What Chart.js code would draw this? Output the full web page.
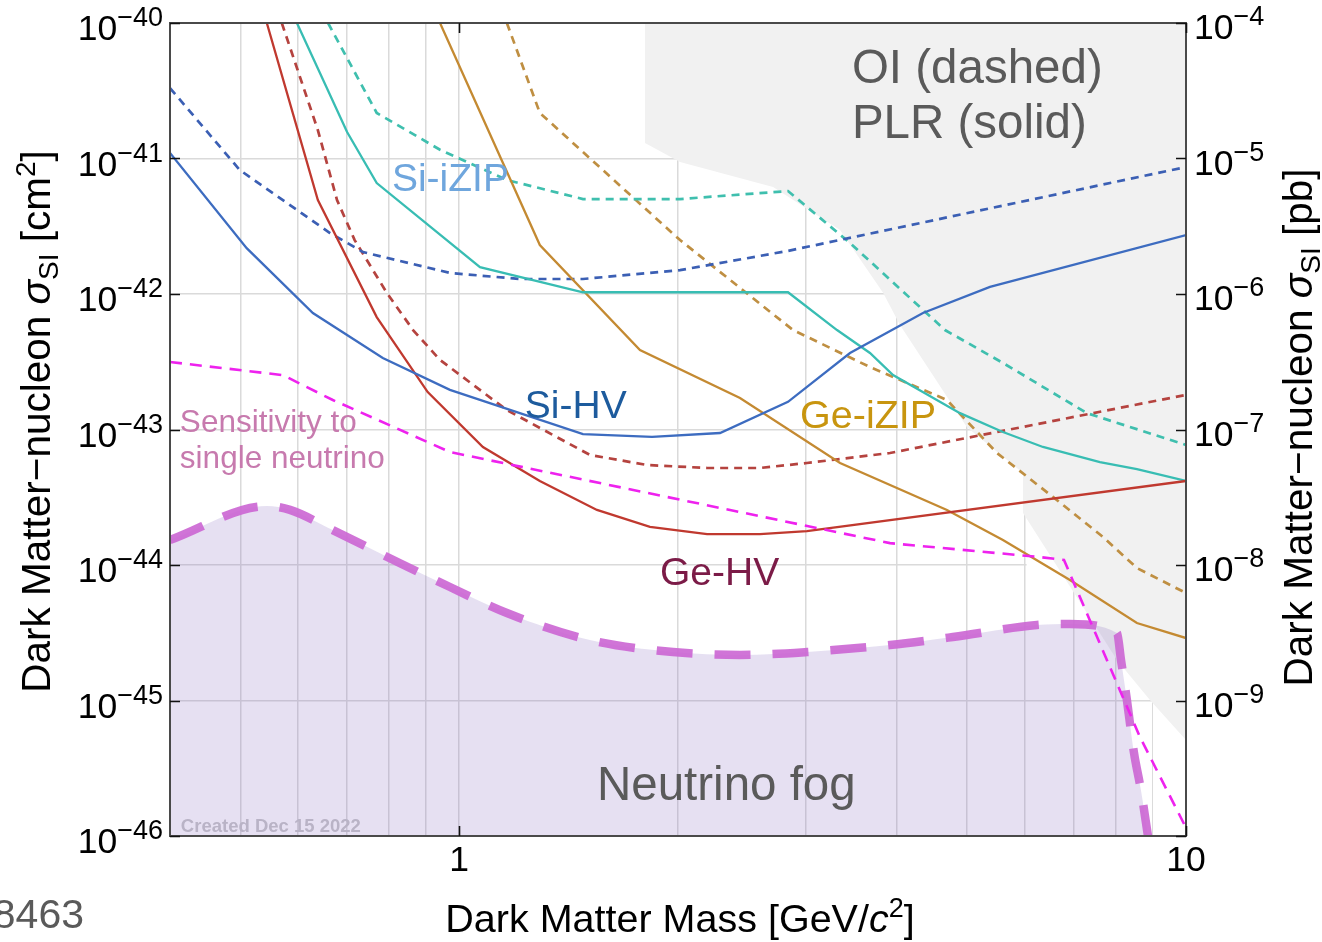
<!DOCTYPE html>
<html>
<head>
<meta charset="utf-8">
<script src="https://cdn.jsdelivr.net/npm/chart.js@4.4.1/dist/chart.umd.min.js"></script>
<style>
  html, body { margin: 0; padding: 0; background: #ffffff; overflow: hidden; }
  canvas { display: block; }
</style>
</head>
<body>
<canvas id="chart" width="1322" height="942"></canvas>
<script>
// ---- Projected spin-independent sensitivities (mass in GeV/c^2, cross-section in cm^2) ----
// Si HV, profile likelihood ratio (solid) and optimum interval (dashed)
const siHvPlrMass = [0.400, 0.510, 0.629, 0.785, 0.971, 1.480, 1.842, 2.285, 2.834, 3.449, 4.346, 5.374, 10.0];
const siHvPlrXsec = [1.10e-41, 2.18e-42, 7.24e-43, 3.37e-43, 1.96e-43, 9.26e-44, 8.81e-44, 9.42e-44, 1.60e-43, 3.67e-43, 7.24e-43, 1.13e-42, 2.72e-42];
const siHvOiMass = [0.400, 0.499, 0.664, 0.737, 0.971, 1.212, 1.480, 2.013, 2.834, 10.0];
const siHvOiXsec = [3.31e-41, 8.22e-42, 2.82e-42, 2.04e-42, 1.43e-42, 1.29e-42, 1.29e-42, 1.50e-42, 2.08e-42, 8.65e-42];

// Ge HV
const geHvPlrMass = [0.5436, 0.639, 0.770, 0.905, 1.078, 1.291, 1.547, 1.830, 2.193, 2.593, 3.009, 10.0];
const geHvPlrXsec = [1e-40, 4.94e-42, 6.76e-43, 1.89e-43, 7.43e-44, 4.17e-44, 2.55e-44, 1.91e-44, 1.69e-44, 1.69e-44, 1.78e-44, 4.17e-44];
const geHvOiMass = [0.570, 0.639, 0.679, 0.718, 0.795, 0.864, 0.941, 1.163, 1.513, 1.813, 2.193, 2.593, 3.009, 3.915, 10.0];
const geHvOiXsec = [1e-40, 1.62e-41, 4.94e-42, 2.50e-42, 1.02e-42, 5.42e-43, 3.26e-43, 1.39e-43, 6.49e-44, 5.47e-44, 5.20e-44, 5.20e-44, 5.66e-44, 6.71e-44, 1.80e-43];

// Si iZIP
const siIzipPlrMass = [0.598, 0.701, 0.770, 1.068, 1.480, 2.834, 3.310, 3.674, 3.953, 4.887, 5.599, 6.356, 7.613, 8.560, 10.0];
const siIzipPlrXsec = [1e-40, 1.57e-41, 6.59e-42, 1.58e-42, 1.03e-42, 1.03e-42, 5.42e-43, 3.67e-43, 2.52e-43, 1.32e-43, 9.59e-44, 7.43e-44, 5.75e-44, 5.11e-44, 4.17e-44];
const siIzipOiMass = [0.660, 0.770, 0.941, 1.163, 1.480, 2.013, 2.834, 3.449, 4.660, 5.599, 7.306, 10.0];
const siIzipOiXsec = [1e-40, 2.17e-41, 1.16e-41, 6.94e-42, 5.02e-42, 5.02e-42, 5.75e-42, 2.38e-42, 5.42e-43, 3.10e-43, 1.32e-43, 7.69e-44];

// Ge iZIP
const geIzipPlrMass = [0.941, 1.291, 1.773, 2.434, 3.342, 4.689, 5.599, 6.923, 8.560, 10.0];
const geIzipPlrXsec = [1e-40, 2.30e-42, 3.86e-43, 1.71e-43, 5.66e-44, 2.55e-44, 1.53e-44, 7.75e-45, 3.73e-45, 2.89e-45];
const geIzipOiMass = [1.163, 1.291, 2.013, 2.879, 3.674, 4.689, 5.494, 6.560, 7.686, 8.560, 10.0];
const geIzipOiXsec = [1e-40, 2.17e-41, 2.50e-42, 5.42e-43, 2.89e-43, 1.65e-43, 6.71e-44, 3.18e-44, 1.61e-44, 9.5e-45, 6.21e-45];

// Cross-section giving one expected neutrino event
const singleNuMass = [0.400, 0.572, 0.670, 0.971, 3.915, 6.237, 6.794, 8.642, 10.0];
const singleNuXsec = [3.15e-43, 2.52e-43, 1.65e-43, 6.82e-44, 1.45e-44, 1.15e-44, 1.09e-44, 5.38e-46, 1.15e-46];

// Neutrino fog boundary
const fogMass = [0.400, 0.5436, 0.585, 0.670, 0.829, 0.971, 1.163, 1.513, 1.968, 2.434, 3.009, 3.915, 4.779, 6.237, 6.923, 8.035, 8.139, 8.292, 8.481, 8.670, 8.864];
const fogXsec = [1.53e-44, 2.72e-44, 2.55e-44, 1.81e-44, 1.03e-44, 6.88e-45, 4.42e-45, 2.79e-45, 2.28e-45, 2.17e-45, 2.28e-45, 2.57e-45, 2.94e-45, 3.61e-45, 3.67e-45, 3.15e-45, 1.99e-45, 1.01e-45, 4.10e-46, 2.18e-46, 1e-46];

// Existing exclusion region (grey), filled up to the top of the plot
const excludedMass = [1.801, 1.801, 2.013, 2.703, 3.342, 3.830, 4.041, 4.996, 5.967, 5.967, 8.035, 8.920, 10.0];
const excludedXsec = [1e-40, 1.30e-41, 9.42e-42, 6.16e-42, 2.97e-42, 1.02e-42, 5.90e-43, 1.04e-43, 4.78e-44, 2.42e-44, 1.99e-45, 1.01e-45, 5.11e-46];

// Blank margin below the exclusion edge where the grid is not shown
const blankMass = [6.03, 6.03, 6.990, 7.984, 9.006, 9.006, 10.0];
const blankXsec = [1e-40, 9.18e-45, 7.12e-45, 2.79e-45, 1.06e-45, 1e-46, 1e-46];

// ---- Axes ----
const massGrid = [0.5, 0.6, 0.7, 0.8, 0.9, 1, 2, 3, 4, 5, 6, 7, 8, 9];
const massTicks = [1, 10];
const massTickLabels = ['1', '10'];
const xsecTicks = [1e-40, 1e-41, 1e-42, 1e-43, 1e-44, 1e-45, 1e-46];
const xsecTickExps = ['\u221240', '\u221241', '\u221242', '\u221243', '\u221244', '\u221245', '\u221246'];
const pbTicks = [1e-4, 1e-5, 1e-6, 1e-7, 1e-8, 1e-9];
const pbTickExps = ['\u22124', '\u22125', '\u22126', '\u22127', '\u22128', '\u22129'];

// ---- In-plot labels (anchored at left/baseline, in data units) ----
const noteText = ['Si-iZIP', 'Si-HV', 'Ge-iZIP', 'Ge-HV', 'Sensitivity to', 'single neutrino', 'OI (dashed)', 'PLR (solid)', 'Neutrino fog', 'Created Dec 15 2022'];
const noteMass = [0.808, 1.231, 2.944, 1.889, 0.4127, 0.4127, 3.47, 3.47, 1.547, 0.414];
const noteXsec = [5.75e-42, 1.22e-43, 1.03e-43, 7.12e-45, 9.58e-44, 5.20e-44, 3.61e-41, 1.42e-41, 1.85e-46, 1.07e-46];

const FF = '"Liberation Sans", Arial, Helvetica, sans-serif';
const noteStyle = [
  { color: '#6fa6dd', font: `39px ${FF}` },
  { color: '#1d5b9d', font: `39px ${FF}` },
  { color: '#c8950f', font: `39.5px ${FF}` },
  { color: '#7b1b47', font: `39px ${FF}` },
  { color: '#c77aae', font: `31.5px ${FF}` },
  { color: '#c77aae', font: `31.5px ${FF}` },
  { color: '#5a5a5a', font: `47.5px ${FF}` },
  { color: '#5a5a5a', font: `47.5px ${FF}` },
  { color: '#5a5a5a', font: `47.5px ${FF}` },
  { color: '#b9b3c6', font: `bold 18.5px ${FF}` }
];

function points(mass, xsec) {
  return mass.map((m, i) => ({ x: m, y: xsec[i] }));
}

function line(mass, xsec, color, dashed, order) {
  return {
    data: points(mass, xsec),
    borderColor: color,
    borderWidth: dashed ? 2.7 : 2.3,
    borderDash: dashed ? [8, 6] : [],
    fill: false,
    order: order
  };
}

// Draws a run of text pieces with their own fonts and vertical offsets.
function richText(ctx, parts, x, y, align) {
  let w = 0;
  for (const p of parts) { ctx.font = p.font; w += ctx.measureText(p.t).width; }
  let cx = align === 'right' ? x - w : align === 'center' ? x - w / 2 : x;
  for (const p of parts) {
    ctx.font = p.font;
    ctx.fillText(p.t, cx, y + (p.dy || 0));
    cx += ctx.measureText(p.t).width;
  }
}

const decorations = {
  id: 'decorations',
  afterDraw(chart) {
    const { ctx, chartArea: a, scales } = chart;
    const x = scales.x, y = scales.y, y2 = scales.y2;
    ctx.save();

    // frame
    ctx.strokeStyle = '#4a4a4a';
    ctx.lineWidth = 2;
    ctx.strokeRect(a.left, a.top, a.right - a.left, a.bottom - a.top);

    // inward tick marks
    ctx.strokeStyle = '#111';
    ctx.lineWidth = 1.6;
    ctx.beginPath();
    xsecTicks.forEach(v => {
      const py = Math.round(y.getPixelForValue(v)) + 0.5;
      ctx.moveTo(a.left, py); ctx.lineTo(a.left + 10, py);
      ctx.moveTo(a.right, py); ctx.lineTo(a.right - 10, py);
    });
    massTicks.forEach(v => {
      const px = Math.round(x.getPixelForValue(v)) + 0.5;
      ctx.moveTo(px, a.bottom); ctx.lineTo(px, a.bottom - 10);
      ctx.moveTo(px, a.top); ctx.lineTo(px, a.top + 10);
    });
    ctx.stroke();

    ctx.fillStyle = '#000';
    ctx.textAlign = 'left';
    ctx.textBaseline = 'alphabetic';
    const big = `35.5px ${FF}`, sup = `27px ${FF}`;

    // left tick labels (cm^2)
    xsecTicks.forEach((v, i) => {
      const py = y.getPixelForValue(v);
      richText(ctx, [{ t: '10', font: big }, { t: xsecTickExps[i], font: sup, dy: -14 }], a.left - 7, py + 17, 'right');
    });
    // right tick labels (pb)
    pbTicks.forEach((v, i) => {
      const py = y2.getPixelForValue(v);
      richText(ctx, [{ t: '10', font: big }, { t: pbTickExps[i], font: sup, dy: -14 }], a.right + 8, py + 16, 'left');
    });
    // bottom tick labels
    massTicks.forEach((v, i) => {
      const px = x.getPixelForValue(v);
      richText(ctx, [{ t: massTickLabels[i], font: big }], px, a.bottom + 35, 'center');
    });

    // axis titles
    const tf = `39.5px ${FF}`, ti = `italic 39.5px ${FF}`, ts = `27px ${FF}`;
    richText(ctx, [
      { t: 'Dark Matter Mass [GeV/', font: tf },
      { t: 'c', font: ti },
      { t: '2', font: ts, dy: -15 },
      { t: ']', font: tf }
    ], (a.left + a.right) / 2 + 2, a.bottom + 96, 'center');

    const lf = `40.5px ${FF}`, li = `italic 40.5px ${FF}`, ls = `28px ${FF}`;
    const midY = (a.top + a.bottom) / 2;
    ctx.save();
    ctx.translate(a.left - 120, midY - 8);
    ctx.rotate(-Math.PI / 2);
    richText(ctx, [
      { t: 'Dark Matter\u2212nucleon ', font: lf },
      { t: '\u03c3', font: li },
      { t: 'SI', font: ls, dy: 8 },
      { t: ' [cm', font: lf },
      { t: '2', font: ls, dy: -15 },
      { t: ']', font: lf }
    ], 0, 0, 'center');
    ctx.restore();

    ctx.save();
    ctx.translate(a.right + 126, midY - 2);
    ctx.rotate(-Math.PI / 2);
    richText(ctx, [
      { t: 'Dark Matter\u2212nucleon ', font: lf },
      { t: '\u03c3', font: li },
      { t: 'SI', font: ls, dy: 8 },
      { t: ' [pb]', font: lf }
    ], 0, 0, 'center');
    ctx.restore();

    // in-plot labels
    noteText.forEach((t, i) => {
      ctx.fillStyle = noteStyle[i].color;
      ctx.font = noteStyle[i].font;
      ctx.fillText(t, x.getPixelForValue(noteMass[i]), y.getPixelForValue(noteXsec[i]));
    });

    // reference number in the lower-left margin
    ctx.fillStyle = '#5a5a5a';
    ctx.font = `41px ${FF}`;
    ctx.textAlign = 'right';
    ctx.fillText('08463', a.left - 86, a.bottom + 92);

    ctx.restore();
  }
};

new Chart(document.getElementById('chart'), {
  type: 'line',
  data: {
    datasets: [
      { data: points(blankMass, blankXsec), borderWidth: 0, borderColor: 'rgba(0,0,0,0)', backgroundColor: '#ffffff', fill: 'end', order: 60 },
      { data: points(excludedMass, excludedXsec), borderWidth: 0, borderColor: 'rgba(0,0,0,0)', backgroundColor: '#f1f1f1', fill: 'end', order: 50 },
      { data: points(fogMass, fogXsec), borderColor: 'rgba(204,104,212,0.92)', borderWidth: 8.5, borderDash: [36, 22], backgroundColor: 'rgba(130,100,190,0.2)', fill: 'start', cubicInterpolationMode: 'monotone', order: 40 },
      line(siHvOiMass, siHvOiXsec, '#3b5fb4', true, 12),
      line(geHvOiMass, geHvOiXsec, '#b5433f', true, 12),
      line(siIzipOiMass, siIzipOiXsec, '#3fbfae', true, 12),
      line(geIzipOiMass, geIzipOiXsec, '#bf8f42', true, 12),
      line(siHvPlrMass, siHvPlrXsec, '#3d6cc0', false, 10),
      line(geHvPlrMass, geHvPlrXsec, '#c0392f', false, 10),
      line(siIzipPlrMass, siIzipPlrXsec, '#38bdb3', false, 10),
      line(geIzipPlrMass, geIzipPlrXsec, '#c48a32', false, 10),
      { data: points(singleNuMass, singleNuXsec), borderColor: '#ee22ee', borderWidth: 2.6, borderDash: [12, 8], fill: false, order: 5 }
    ]
  },
  options: {
    responsive: false,
    animation: false,
    devicePixelRatio: 1,
    layout: { padding: { top: 23, left: 0, right: 0, bottom: 0 } },
    plugins: { legend: { display: false }, tooltip: { enabled: false } },
    elements: { point: { radius: 0, hoverRadius: 0 }, line: { tension: 0 } },
    scales: {
      x: {
        type: 'logarithmic', position: 'bottom', min: 0.4, max: 10,
        afterBuildTicks: s => { s.ticks = massGrid.map(v => ({ value: v })); },
        afterFit: s => { s.height = 106; },
        ticks: { display: false },
        grid: { color: '#dadada', lineWidth: 1.5, drawTicks: false },
        border: { display: false }
      },
      y: {
        type: 'logarithmic', position: 'left', min: 1e-46, max: 1e-40,
        afterBuildTicks: s => { s.ticks = xsecTicks.map(v => ({ value: v })); },
        afterFit: s => { s.width = 170; },
        ticks: { display: false },
        grid: { color: '#dadada', lineWidth: 1.5, drawTicks: false },
        border: { display: false }
      },
      y2: {
        type: 'logarithmic', position: 'right', min: 1e-10, max: 1e-4,
        afterBuildTicks: s => { s.ticks = pbTicks.map(v => ({ value: v })); },
        afterFit: s => { s.width = 136; },
        ticks: { display: false },
        grid: { display: false, drawTicks: false },
        border: { display: false }
      }
    }
  },
  plugins: [decorations]
});
</script>
</body>
</html>
